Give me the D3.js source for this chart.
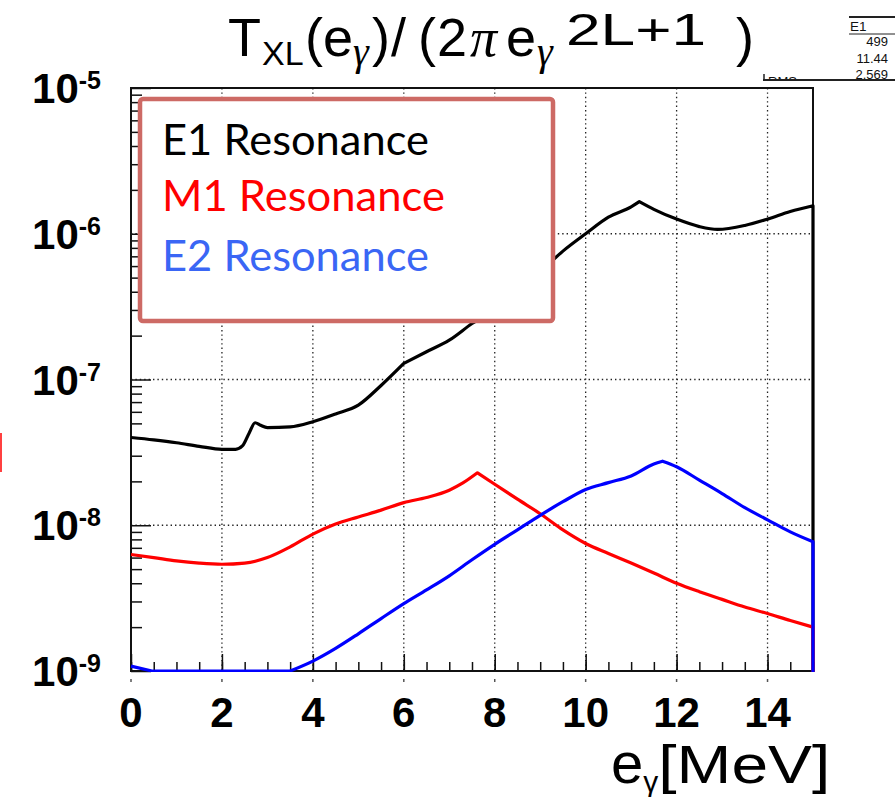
<!DOCTYPE html>
<html>
<head>
<meta charset="utf-8">
<script src="https://cdn.jsdelivr.net/npm/d3@7"></script>
<style>
  html, body { margin: 0; padding: 0; background: #fff; }
  svg { display: block; }
</style>
</head>
<body>
<svg id="chart" width="895" height="797"></svg>
<script>
// Photon energy (MeV) and strength T_XL / (2 pi e^(2L+1)) for each multipolarity
const e1Energy   = [0, 0.5, 1.0, 1.5, 2.0, 2.3, 2.45, 2.6, 2.73, 2.85, 3.0, 3.5, 4.0, 4.5, 5.0, 5.5, 6.0, 6.5, 7.0, 7.5, 8.0, 8.5, 9.0, 9.5, 10.0, 10.5, 11.0, 11.18, 11.5, 12.0, 12.5, 12.9, 13.5, 14.0, 14.5, 15.0];
const e1Strength = [4.0e-8, 3.85e-8, 3.68e-8, 3.48e-8, 3.32e-8, 3.32e-8, 3.5e-8, 4.3e-8, 5.05e-8, 4.85e-8, 4.68e-8, 4.73e-8, 5.13e-8, 5.8e-8, 6.67e-8, 9.1e-8, 1.29e-7, 1.55e-7, 1.86e-7, 2.42e-7, 3.06e-7, 4.1e-7, 5.5e-7, 7.6e-7, 1.0e-6, 1.3e-6, 1.53e-6, 1.66e-6, 1.47e-6, 1.26e-6, 1.12e-6, 1.07e-6, 1.14e-6, 1.26e-6, 1.42e-6, 1.556e-6];
const e1Kinks    = [6.0, 11.18];

const m1Energy   = [0, 0.5, 1.0, 1.5, 2.0, 2.5, 3.0, 3.5, 4.0, 4.5, 5.0, 5.5, 6.0, 6.5, 7.0, 7.3, 7.62, 8.0, 8.5, 9.0, 9.5, 10.0, 10.5, 11.0, 11.5, 12.0, 12.5, 13.0, 13.5, 14.0, 14.5, 15.0];
const m1Strength = [6.3e-9, 6.0e-9, 5.7e-9, 5.5e-9, 5.4e-9, 5.5e-9, 6.0e-9, 7.1e-9, 8.7e-9, 1.02e-8, 1.14e-8, 1.27e-8, 1.43e-8, 1.55e-8, 1.74e-8, 1.95e-8, 2.29e-8, 1.91e-8, 1.51e-8, 1.2e-8, 9.3e-9, 7.5e-9, 6.4e-9, 5.5e-9, 4.7e-9, 4.0e-9, 3.5e-9, 3.1e-9, 2.75e-9, 2.48e-9, 2.22e-9, 2.0e-9];
const m1Kinks    = [7.62];

const e2Energy   = [0, 0.46, 1.0, 2.0, 3.0, 3.5, 4.0, 4.5, 5.0, 5.5, 6.0, 6.5, 7.0, 7.5, 8.0, 8.5, 9.0, 9.5, 10.0, 10.5, 11.0, 11.5, 11.69, 12.0, 12.5, 13.0, 13.5, 14.0, 14.5, 15.0];
const e2Strength = [1.08e-9, 1.0e-9, 1.0e-9, 1.0e-9, 1.0e-9, 1.0e-9, 1.17e-9, 1.43e-9, 1.8e-9, 2.29e-9, 2.9e-9, 3.6e-9, 4.5e-9, 5.8e-9, 7.4e-9, 9.3e-9, 1.17e-8, 1.45e-8, 1.76e-8, 1.96e-8, 2.18e-8, 2.63e-8, 2.75e-8, 2.52e-8, 2.04e-8, 1.65e-8, 1.32e-8, 1.09e-8, 9.0e-9, 7.7e-9];
const e2Kinks    = [0.46, 3.5, 11.69];

const xTickLabels   = ["0", "2", "4", "6", "8", "10", "12", "14"];
const xTickValues   = [0, 2, 4, 6, 8, 10, 12, 14];
const yDecades      = [1e-9, 1e-8, 1e-7, 1e-6, 1e-5];
const yExponents    = ["-9", "-8", "-7", "-6", "-5"];
const legendLabels  = ["E1 Resonance", "M1 Resonance", "E2 Resonance"];
const seriesColors  = ["#000000", "#ff0000", "#0000ff"];
const legendColors  = ["#000000", "#ff0000", "#3a66f5"];
const statsTitle    = "E1";
const statsLabels   = ["Entries", "Mean", "RMS"];
const statsValues   = ["499", "11.44", "2.569"];

const svg = d3.select("#chart");
const x = d3.scaleLinear().domain([0, 15]).range([131, 813]);
const y = d3.scaleLog().domain([1e-9, 1e-5]).range([671, 88]);
const [x0, x1] = x.range();
const [yBot, yTop] = y.range();

svg.append("rect").attr("width", 895).attr("height", 797).attr("fill", "#fff");

// dotted grid
const grid = svg.append("g").attr("stroke", "#222").attr("stroke-width", 1.3)
  .attr("stroke-dasharray", "1.4,3");
grid.selectAll("line.gx").data(xTickValues.filter(v => v > 0)).join("line")
  .attr("x1", d => x(d)).attr("x2", d => x(d)).attr("y1", yTop).attr("y2", yBot);
grid.selectAll("line.gy").data([1e-8, 1e-7, 1e-6]).join("line")
  .attr("x1", x0).attr("x2", x1).attr("y1", d => y(d)).attr("y2", d => y(d));

// axes: ticks drawn inward
const minorY = [];
yDecades.slice(0, -1).forEach(d => { for (let m = 2; m <= 9; m++) minorY.push(d * m); });

const axes = svg.append("g");
axes.append("g").attr("transform", `translate(0,${yBot})`)
  .call(d3.axisBottom(x).tickValues(xTickValues).tickSizeInner(-17).tickSizeOuter(0).tickFormat(""));
axes.append("g").attr("transform", `translate(0,${yBot})`)
  .call(d3.axisBottom(x).tickValues(d3.range(0, 15.01, 0.5)).tickSizeInner(-9).tickSizeOuter(0).tickFormat(""));
axes.append("g").attr("transform", `translate(${x0},0)`)
  .call(d3.axisLeft(y).tickValues(yDecades).tickSizeInner(-20).tickSizeOuter(0).tickFormat(""));
axes.append("g").attr("transform", `translate(${x0},0)`)
  .call(d3.axisLeft(y).tickValues(minorY).tickSizeInner(-11).tickSizeOuter(0).tickFormat(""));
axes.selectAll("path.domain").remove();
axes.selectAll("line").attr("stroke", "#111").attr("stroke-width", 1.5);

svg.append("rect").attr("x", x0).attr("y", yTop).attr("width", x1 - x0).attr("height", yBot - yTop)
  .attr("fill", "none").attr("stroke", "#111").attr("stroke-width", 2);

// small marks left by the native tick labels just under the axis
svg.append("g").selectAll("line").data(xTickValues).join("line")
  .attr("x1", d => x(d)).attr("x2", d => x(d)).attr("y1", 679).attr("y2", 682)
  .attr("stroke", "#555").attr("stroke-width", 1.5);

// curves: smooth between kinks, sharp corners at the kinks
svg.append("clipPath").attr("id", "plotClip").append("rect")
  .attr("x", x0 - 2).attr("y", yTop - 2).attr("width", x1 - x0 + 4).attr("height", yBot - yTop + 3);
const smooth = d3.line().x(d => x(d[0])).y(d => y(Math.max(d[1], 1e-9))).curve(d3.curveMonotoneX);
const series = [
  [e1Energy, e1Strength, e1Kinks],
  [m1Energy, m1Strength, m1Kinks],
  [e2Energy, e2Strength, e2Kinks]
];
function curvePath(xs, vs, kinks) {
  const pts = xs.map((e, j) => [e, vs[j]]);
  const segs = [];
  let cur = [];
  pts.forEach(p => {
    cur.push(p);
    if (kinks.includes(p[0])) { segs.push(cur); cur = [p]; }
  });
  if (cur.length > 1) segs.push(cur);
  return segs.map((s, k) => {
    const d = smooth(s);
    return k === 0 ? d : "L" + d.slice(1);
  }).join("");
}
const curves = svg.append("g").attr("clip-path", "url(#plotClip)");
series.forEach(([xs, vs, kinks], i) => {
  curves.append("path")
    .attr("d", curvePath(xs, vs, kinks) + `V${yBot + 1}`)
    .attr("fill", "none").attr("stroke", seriesColors[i]).attr("stroke-width", 3.2)
    .attr("stroke-linejoin", "round");
});

// legend
svg.append("rect").attr("x", 140).attr("y", 99).attr("width", 413).attr("height", 222)
  .attr("rx", 3).attr("fill", "#fff").attr("stroke", "#cd6a65").attr("stroke-width", 4.5);
const legendWidths = [267, 283, 267];
svg.append("g").selectAll("text").data(legendLabels).join("text")
  .attr("x", 162).attr("y", (d, i) => [155, 211, 271][i])
  .attr("font-family", "Lato, 'Open Sans', sans-serif").attr("font-size", 42)
  .attr("textLength", (d, i) => legendWidths[i]).attr("lengthAdjust", "spacingAndGlyphs")
  .attr("fill", (d, i) => legendColors[i]).text(d => d);

// y tick labels: 10^n
const yLab = svg.append("g").attr("font-family", "Liberation Sans, Arial, sans-serif")
  .attr("font-weight", "bold").attr("fill", "#000");
yDecades.forEach((d, i) => {
  const t = yLab.append("text").attr("x", 101).attr("y", y(d) + 15).attr("text-anchor", "end");
  t.append("tspan").attr("font-size", 42).text("10");
  t.append("tspan").attr("font-size", 25).attr("dy", -14).text(yExponents[i]);
});

// x tick labels
svg.append("g").selectAll("text").data(xTickLabels).join("text")
  .attr("x", (d, i) => x(xTickValues[i])).attr("y", 727)
  .attr("text-anchor", "middle").attr("font-family", "Liberation Sans, Arial, sans-serif")
  .attr("font-weight", "bold").attr("font-size", 42).attr("fill", "#000").text(d => d);

// x axis title
const xt = svg.append("text").attr("x", 611).attr("y", 783)
  .attr("font-family", "Liberation Sans, Arial, sans-serif").attr("fill", "#000");
xt.append("tspan").attr("font-size", 58).text("e");
xt.append("tspan").attr("font-size", 30).attr("dy", 9).text("γ");
xt.append("tspan").attr("font-size", 54).attr("dy", -9).attr("textLength", 172)
  .attr("lengthAdjust", "spacingAndGlyphs").text("[MeV]");

// title, laid out piece by piece
const titleParts = [
  { t: "T",    x: 228, base: 0 },
  { t: "XL",   x: 262, base: 9,   size: 34 },
  { t: "(",    x: 305, base: 0 },
  { t: "e",    x: 323, base: 0 },
  { t: "γ",    x: 353, base: 9,   size: 40, greek: true },
  { t: ")",    x: 372, base: 0 },
  { t: "/",    x: 391, base: 0 },
  { t: "(",    x: 418, base: 0 },
  { t: "2",    x: 437, base: 0 },
  { t: "π",    x: 470, base: 0,   greek: true },
  { t: "e",    x: 506, base: 0 },
  { t: "γ",    x: 537, base: 9,   size: 40, greek: true },
  { t: "2L+1", x: 566, base: -11, size: 44, len: 140 },
  { t: ")",    x: 736, base: 0 }
];
const tt = svg.append("g").attr("font-family", "Liberation Sans, Arial, sans-serif").attr("fill", "#000");
titleParts.forEach(p => {
  const el = tt.append("text").attr("x", p.x).attr("y", 56 + p.base)
    .attr("font-size", p.size || 54).text(p.t);
  if (p.greek) el.attr("font-family", "Liberation Serif, serif").attr("font-style", "italic");
  if (p.len) el.attr("textLength", p.len).attr("lengthAdjust", "spacingAndGlyphs");
});

// statistics box (partly hidden)
const st = svg.append("g").attr("font-family", "Liberation Sans, Arial, sans-serif").attr("fill", "#111");
st.append("line").attr("x1", 849).attr("x2", 895).attr("y1", 17).attr("y2", 17).attr("stroke", "#222").attr("stroke-width", 2);
st.append("line").attr("x1", 849).attr("x2", 895).attr("y1", 34).attr("y2", 34).attr("stroke", "#222").attr("stroke-width", 1);
st.append("text").attr("x", 850).attr("y", 31).attr("font-size", 13.5).text(statsTitle);
st.selectAll("text.v").data(statsValues).join("text")
  .attr("x", 888).attr("y", (d, i) => [46, 63, 79][i]).attr("text-anchor", "end")
  .attr("font-size", 13).text(d => d);
svg.append("clipPath").attr("id", "statClip").append("rect")
  .attr("x", 760).attr("y", 75).attr("width", 60).attr("height", 5);
st.append("text").attr("clip-path", "url(#statClip)").attr("x", 768).attr("y", 86)
  .attr("font-size", 13).text(statsLabels[2]);
st.append("line").attr("x1", 763).attr("x2", 895).attr("y1", 80).attr("y2", 80).attr("stroke", "#222").attr("stroke-width", 2);
st.append("line").attr("x1", 764).attr("x2", 764).attr("y1", 74).attr("y2", 81).attr("stroke", "#222").attr("stroke-width", 1.5);

// stray marker at the left edge
svg.append("rect").attr("x", 0).attr("y", 433).attr("width", 2).attr("height", 39).attr("fill", "#ff4040");
</script>
</body>
</html>
